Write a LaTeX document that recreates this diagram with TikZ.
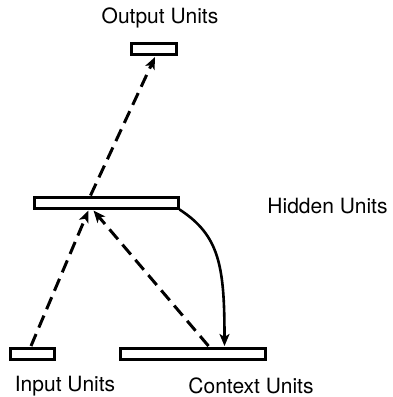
\documentclass[tikz,border=0pt]{standalone}
\usepackage{fontspec}
\setmainfont{TeX Gyre Heros}
\usetikzlibrary{arrows.meta,calc}
\begin{document}
\begin{tikzpicture}[x=1pt,y=-1pt,
  unitbox/.style={draw, line width=3pt, inner sep=0pt, minimum height=11pt},
  lbl/.style={font=\fontsize{21}{24}\selectfont, inner sep=0pt},
  dasharrow/.style={line width=3pt, dash pattern=on 13pt off 7pt, -{Stealth[length=12pt,width=10pt,inset=3pt]}},
  solidarrow/.style={line width=2.6pt, -{Stealth[length=12pt,width=10pt,inset=3pt]}}]
\useasboundingbox (0,0) rectangle (392,397);
\node[unitbox, minimum width=45pt] (out) at (153.5,49) {};
\node[unitbox, minimum width=144pt] (hid) at (106,202.5) {};
\node[unitbox, minimum width=44pt] (inp) at (32,354) {};
\node[unitbox, minimum width=145pt] (ctx) at (192.5,354) {};
\node[lbl] (outl) at (160,18) {Output Units};
\node[lbl] (hidl) at (327.5,206) {Hidden Units};
\node[lbl] (inpl) at (65,386) {Input Units};
\node[lbl] (ctxl) at (251,386) {Context Units};
\draw[dasharrow] ($(hid.north west)+(58,0)$) -- ($(out.south)+(1.5,1)$);
\draw[dasharrow] ($(inp.north)+(-1,-1)$) -- ($(hid.south west)+(56,1)$);
\draw[dasharrow] ($(ctx.north west)+(90,-1)$) -- ($(hid.south west)+(61,1)$);
\draw[solidarrow] (hid.south east) .. controls +(40,26) and +(0,-80) .. ($(ctx.north west)+(106,-1)$);
\end{tikzpicture}
\end{document}
